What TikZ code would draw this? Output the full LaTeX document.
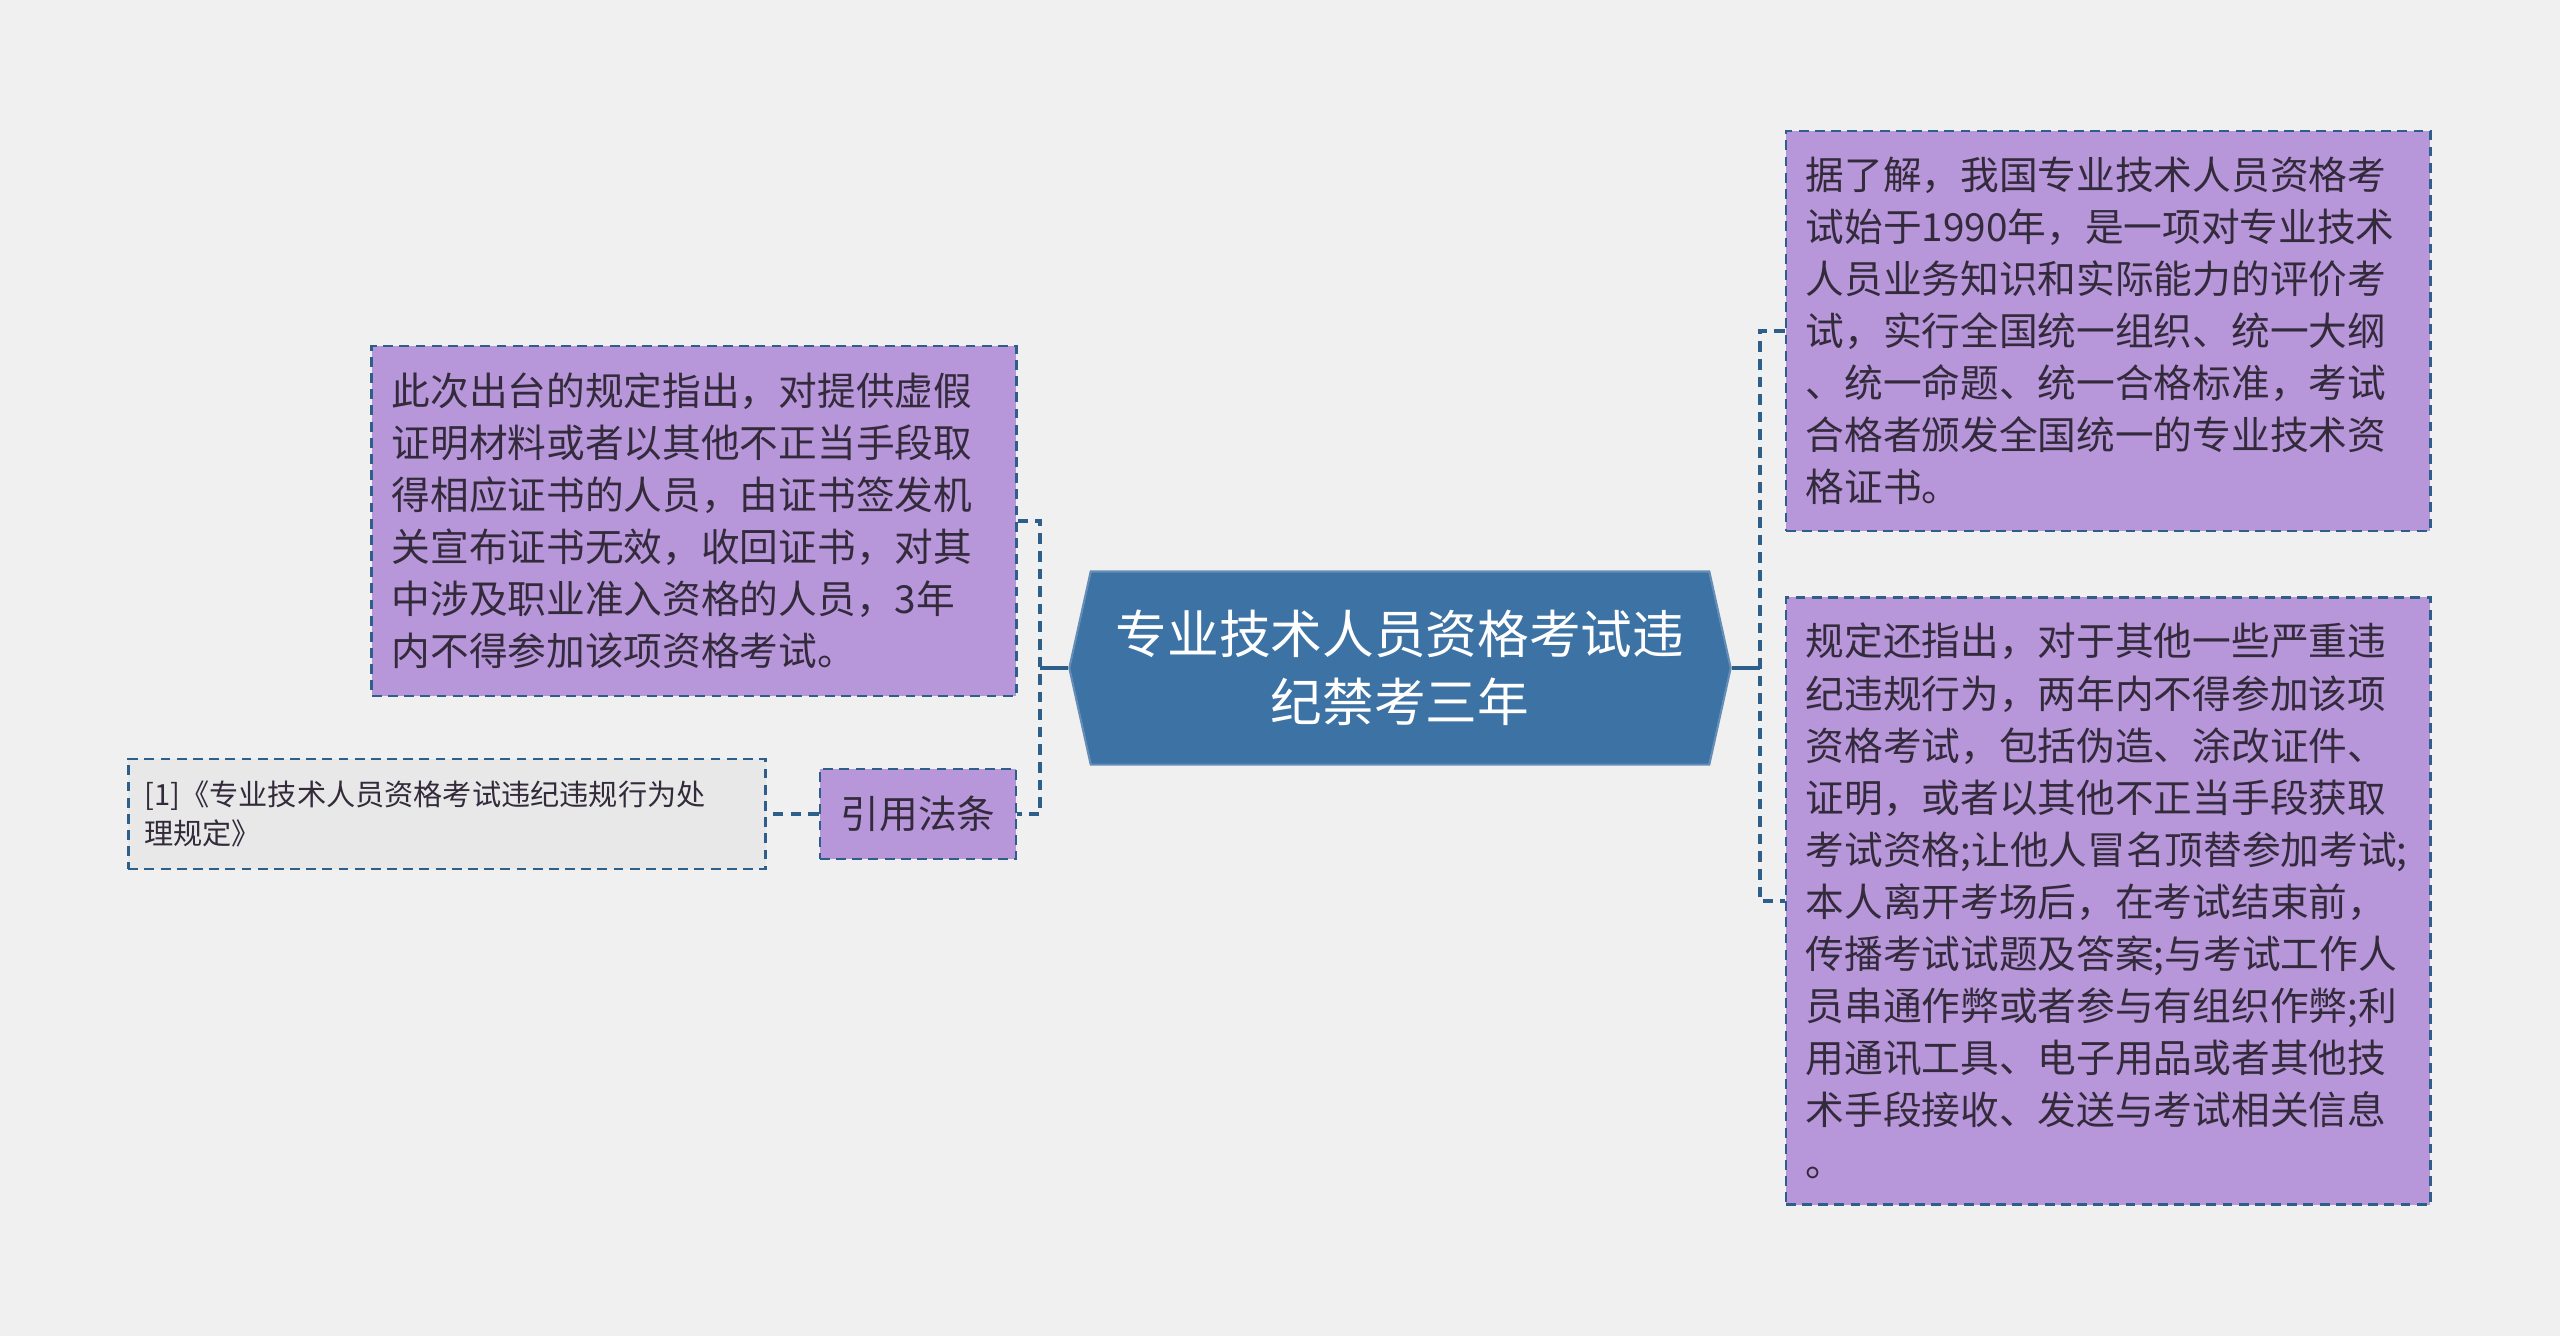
\documentclass[tikz,border=0pt]{standalone}
\usepackage{fontspec}
\setmainfont{Noto Sans CJK SC}
\usetikzlibrary{shapes.symbols}
\definecolor{bgcol}{HTML}{F0F0F0}
\definecolor{linkcol}{HTML}{2E5F8A}
\definecolor{boxcol}{HTML}{B796DA}
\definecolor{rootcol}{HTML}{3D72A4}
\definecolor{citecol}{HTML}{E8E8E8}
\definecolor{txtcol}{HTML}{332B3B}
\begin{document}
\begin{tikzpicture}[x=0.01cm, y=-0.01cm,
  leaf/.style={draw=linkcol, dashed, dash pattern=on 2.8pt off 1.8pt, line width=0.75pt, fill=boxcol, text=txtcol, align=left, inner xsep=0.2cm, font=\fontsize{11pt}{14.8pt}\selectfont},
  link/.style={draw=linkcol, dash pattern=on 3pt off 2pt, line width=1.2pt},
  stub/.style={draw=linkcol, line width=1.4pt}]
\useasboundingbox[fill=bgcol] (0,0) rectangle (2560,1336);
\node[signal, signal to=west and east, signal pointer angle=155, draw=rootcol!80!white, line width=0.6pt, fill=rootcol, text=white, align=center, minimum width=6.61cm, minimum height=1.93cm, font=\fontsize{14.7pt}{19.5pt}\selectfont] (root) at (1400,668){专业技术人员资格考试违\\纪禁考三年};
\node[leaf, text width=6.04cm, minimum height=3.5cm] (rule) at (694,521){此次出台的规定指出，对提供虚假\\证明材料或者以其他不正当手段取\\得相应证书的人员，由证书签发机\\关宣布证书无效，收回证书，对其\\中涉及职业准入资格的人员，3年\\内不得参加该项资格考试。};
\node[leaf, align=center, minimum width=1.96cm, minimum height=0.9cm] (law) at (918,814){引用法条};
\node[leaf, fill=citecol, text width=6.05cm, inner xsep=0.16cm, minimum height=1.1cm, font=\fontsize{8.3pt}{11pt}\selectfont] (cite) at (447,814){[1]《专业技术人员资格考试违纪违规行为处\\理规定》};
\node[leaf, text width=6.04cm, minimum height=4cm] (hist) at (2108,331){据了解，我国专业技术人员资格考\\试始于1990年，是一项对专业技术\\人员业务知识和实际能力的评价考\\试，实行全国统一组织、统一大纲\\、统一命题、统一合格标准，考试\\合格者颁发全国统一的专业技术资\\格证书。};
\node[leaf, text width=6.04cm, minimum height=6.07cm] (ban) at (2108,901){规定还指出，对于其他一些严重违\\纪违规行为，两年内不得参加该项\\资格考试，包括伪造、涂改证件、\\证明，或者以其他不正当手段获取\\考试资格;让他人冒名顶替参加考试;\\本人离开考场后，在考试结束前，\\传播考试试题及答案;与考试工作人\\员串通作弊或者参与有组织作弊;利\\用通讯工具、电子用品或者其他技\\术手段接收、发送与考试相关信息\\。};
\draw[stub] (root.west) -- ++(-28,0) coordinate (lj);
\draw[stub] (root.east) -- ++(28,0) coordinate (rj);
\draw[link] (rule.east) -| (lj) |- (law.east);
\draw[link] (law.west) -- (cite.east);
\draw[link] (hist.west) -| (rj) |- (ban.west);
\end{tikzpicture}
\end{document}
